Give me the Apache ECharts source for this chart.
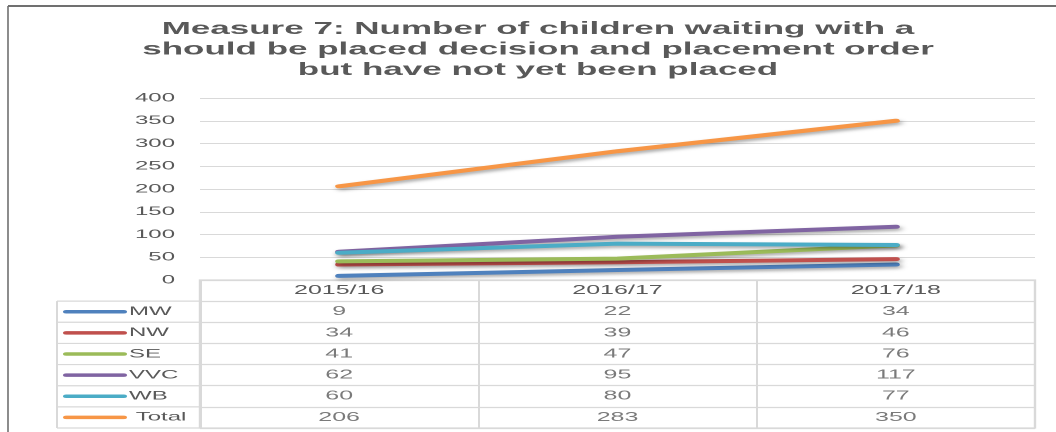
<!DOCTYPE html>
<html>
<head>
<meta charset="utf-8">
<script src="https://cdn.jsdelivr.net/npm/echarts@6/dist/echarts.min.js"></script>
<style>
  html, body { margin: 0; padding: 0; background: #fff; overflow: hidden; }
  #c { width: 528px; height: 432px; transform: scaleX(2); transform-origin: 0 0; }
</style>
</head>
<body>
<div id="c"></div>
<script>
// ---- data ----
const categories = ['2015/16', '2016/17', '2017/18'];
const seriesNames = ['MW', 'NW', 'SE', 'VVC', 'WB', 'Total'];
const legendLabels = ['MW', 'NW', 'SE', 'VVC', 'WB', ' Total'];
const MW = [9, 22, 34];
const NW = [34, 39, 46];
const SE = [41, 47, 76];
const VVC = [62, 95, 117];
const WB = [60, 80, 77];
const Total = [206, 283, 350];
const yTicks = { min: 0, max: 400, interval: 50 };
const titleText = 'Measure 7: Number of children waiting with a\nshould be placed decision and placement order\nbut have not yet been placed';

// ---- style / layout ----
const values = [MW, NW, SE, VVC, WB, Total];
const colors = ['#4F81BD', '#C0504D', '#9BBB59', '#8064A2', '#4BACC6', '#F79646'];
const textColor = '#595959';
const gridColor = '#d9d9d9';
const font = 'Liberation Sans';
const W = 528; // half-width space (stretched x2 via CSS)
const plotLeft = 100, plotRight = 10.5, plotTop = 98, plotBottomY = 280;
const tableTop = 280, tableBottom = 428;
const legendLeft = 28.5;
const rowNames = [''].concat(seriesNames);
const rowH = (tableBottom - tableTop) / rowNames.length;

const chart = echarts.init(document.getElementById('c'), null, { devicePixelRatio: 2 });

const rich = { t: { fontSize: 12, color: textColor, fontFamily: font, padding: [0, 0, 0, 1] } };
colors.forEach((c, i) => {
  rich['l' + i] = { width: 32, height: 3.5, backgroundColor: c, borderRadius: 2 };
});

const lineSeries = seriesNames.map((n, i) => ({
  name: n,
  type: 'line',
  xAxisIndex: 0,
  yAxisIndex: 0,
  data: values[i],
  symbol: 'none',
  z: 3 + i,
  lineStyle: {
    width: 4, color: colors[i], cap: 'round',
    shadowColor: 'rgba(0,0,0,0.35)', shadowBlur: 3, shadowOffsetX: 1, shadowOffsetY: 2
  },
  emphasis: { disabled: true }
}));

const tableSeries = seriesNames.map((n, i) => ({
  name: n + ' table',
  type: 'scatter',
  xAxisIndex: 1,
  yAxisIndex: 1,
  silent: true,
  symbolSize: 1,
  itemStyle: { color: 'rgba(255,255,255,0)' },
  data: categories.map((c, k) => [c, n, values[i][k]]),
  label: {
    show: true, position: 'inside',
    formatter: p => String(p.value[2]),
    color: textColor, fontSize: 12.5, fontFamily: font
  },
  emphasis: { disabled: true }
}));

// table lines in the legend column (outside grid 2)
const tableGraphics = [];
for (let r = 1; r <= rowNames.length; r++) {
  const y = tableTop + r * rowH;
  tableGraphics.push({
    type: 'line', silent: true,
    shape: { x1: legendLeft, y1: y, x2: plotLeft, y2: y },
    style: { stroke: gridColor, lineWidth: 1.2 }
  });
}
tableGraphics.push({
  type: 'line', silent: true,
  shape: { x1: legendLeft, y1: tableTop + rowH, x2: legendLeft, y2: tableBottom },
  style: { stroke: gridColor, lineWidth: 1 }
});

chart.setOption({
  animation: false,
  backgroundColor: '#ffffff',
  grid: [
    { left: plotLeft, right: plotRight, top: plotTop, height: plotBottomY - plotTop },
    { left: plotLeft, right: plotRight, top: tableTop, height: tableBottom - tableTop,
      show: true, borderColor: gridColor, borderWidth: 1.2 }
  ],
  xAxis: [
    { type: 'category', gridIndex: 0, data: categories, boundaryGap: true,
      axisLine: { show: false }, axisTick: { show: false }, splitLine: { show: false },
      axisLabel: { margin: 4, color: textColor, fontSize: 12.5, fontFamily: font } },
    { type: 'category', gridIndex: 1, data: categories, boundaryGap: true,
      axisLine: { show: false }, axisTick: { show: false }, axisLabel: { show: false },
      splitLine: { show: true, interval: 0, lineStyle: { color: gridColor, width: 1 } } }
  ],
  yAxis: [
    { type: 'value', gridIndex: 0, min: yTicks.min, max: yTicks.max, interval: yTicks.interval,
      axisLine: { show: false }, axisTick: { show: false },
      splitLine: { lineStyle: { color: gridColor, width: 1 } },
      axisLabel: { margin: 12.5, color: textColor, fontSize: 12, fontFamily: font } },
    { type: 'category', gridIndex: 1, data: rowNames, inverse: true, boundaryGap: true,
      axisLine: { show: false }, axisTick: { show: false },
      splitLine: { show: true, interval: 0, lineStyle: { color: gridColor, width: 1.2 } },
      axisLabel: {
        interval: 0, align: 'left', margin: plotLeft - 31.5,
        formatter: (v) => {
          const i = seriesNames.indexOf(v);
          return i < 0 ? '' : '{l' + i + '|}{t|' + legendLabels[i] + '}';
        },
        rich: rich
      } }
  ],
  graphic: [
    { type: 'line', silent: true, shape: { x1: 4, y1: 6, x2: W, y2: 6 },
      style: { stroke: '#707070', lineWidth: 2 } },
    { type: 'line', silent: true, shape: { x1: 4, y1: 6, x2: 4, y2: 432 },
      style: { stroke: '#707070', lineWidth: 0.8 } },
    { type: 'text', silent: true, x: 269, y: 19,
      style: { text: titleText, textAlign: 'center', textVerticalAlign: 'top',
        fontSize: 17.5, fontWeight: 'bold', fontFamily: font, fill: textColor, lineHeight: 20.5 } }
  ].concat(tableGraphics),
  series: lineSeries.concat(tableSeries)
});
</script>
</body>
</html>
